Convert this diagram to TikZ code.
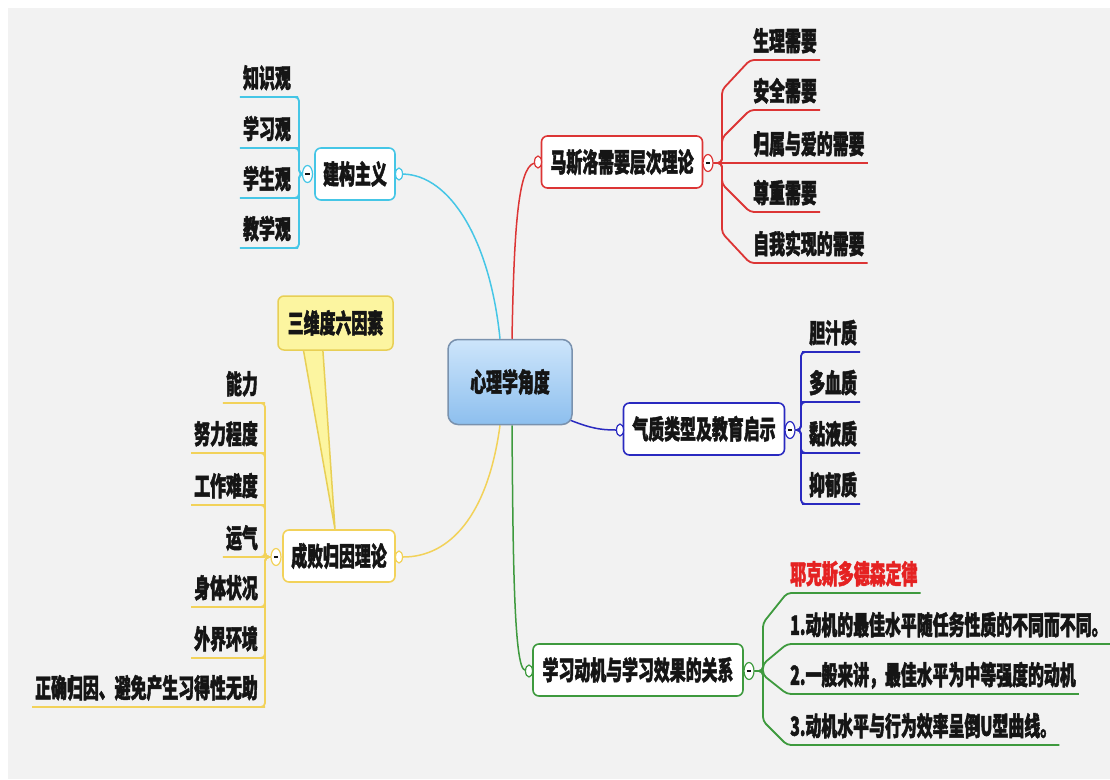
\documentclass[tikz,border=0pt]{standalone}
\usepackage{fontspec}
\setmainfont{Noto Sans CJK SC}[FakeStretch=0.6, BoldFeatures={FakeBold=1.6}]
\usetikzlibrary{shapes.geometric,backgrounds}
\definecolor{bgc}{HTML}{F2F2F2}
\definecolor{cy}{HTML}{45C6E6}
\definecolor{rd}{HTML}{DC3535}
\definecolor{bl}{HTML}{2A2AC0}
\definecolor{ye}{HTML}{F2D25A}
\definecolor{gr}{HTML}{3E9A3E}
\definecolor{txt}{HTML}{151515}
\definecolor{ctop}{HTML}{CDE5FB}
\definecolor{cbot}{HTML}{8DBFEE}
\definecolor{cbord}{HTML}{7A92AE}
\definecolor{callf}{HTML}{FCF5A0}
\definecolor{calld}{HTML}{E8CF55}
\definecolor{jred}{HTML}{E52222}
\newcommand{\colminus}{\rule{4.5pt}{2pt}}
\begin{document}
\begin{tikzpicture}[x=1pt,y=-1pt,
  every node/.style={font=\fontsize{26.5}{30}\selectfont\bfseries, text=txt},
  topic/.style={draw=#1, line width=1.6pt, fill=white, rounded corners=6pt,
    minimum height=52pt, inner xsep=8pt, text height=22pt, text depth=2pt},
  central/.style={draw=cbord, line width=1.5pt, rounded corners=10pt,
    top color=ctop, bottom color=cbot, minimum width=124pt, minimum height=85pt,
    text height=22pt, text depth=2pt},
  callbox/.style={draw=calld, line width=1.5pt, fill=callf, rounded corners=6pt,
    minimum width=115pt, minimum height=54pt, text height=22pt, text depth=2pt},
  leaf/.style={inner xsep=3pt, inner ysep=6pt, text height=22pt, text depth=3pt},
  ent/.style={ellipse, draw=#1, line width=1.2pt, fill=white, minimum width=7pt,
    minimum height=12pt, inner sep=0pt},
  col/.style={ellipse, draw=#1, line width=1.2pt, fill=white, minimum width=10pt,
    minimum height=17pt, inner sep=0pt, text height=2pt, text depth=0pt},
  con/.style={draw=#1, line width=1.5pt},
  br/.style={draw=#1, line width=1.8pt, rounded corners=4pt},
]
\path[use as bounding box] (0,0) rectangle (1110,779);

% central
\node[central] (c) at (510,382) {心理学角度};

% topics
\node[topic=cy, minimum width=80pt] (jz) at (355,174) {建构主义};
\node[ent=cy] (jze) at (399,174) {};
\node[col=cy] (jzc) at (307.5,174) {\colminus};

\node[topic=rd, minimum width=161pt] (mas) at (622,162) {马斯洛需要层次理论};
\node[ent=rd] (mase) at (538,162) {};
\node[col=rd] (masc) at (708,163) {\colminus};

\node[topic=bl, minimum width=161pt] (qz) at (704,429) {气质类型及教育启示};
\node[ent=bl] (qze) at (620,430) {};
\node[col=bl] (qzc) at (790,430) {\colminus};

\node[topic=ye, minimum width=112pt] (cb) at (339,556) {成败归因理论};
\node[ent=ye] (cbe) at (399,557) {};
\node[col=ye] (cbc) at (276,557) {\colminus};

\node[topic=gr, minimum width=210pt] (xx) at (638,670) {学习动机与学习效果的关系};
\node[ent=gr] (xxe) at (529,671) {};
\node[col=gr] (xxc) at (749,671) {\colminus};

% callout
\node[callbox] (sw) at (335.5,323) {三维度六因素};

% leaves: constructivism
\node[leaf, anchor=south east] (k1) at (294,97) {知识观};
\node[leaf, anchor=south east] (k2) at (294,148) {学习观};
\node[leaf, anchor=south east] (k3) at (294,198) {学生观};
\node[leaf, anchor=south east] (k4) at (294,248) {教学观};

% leaves: Maslow
\node[leaf, anchor=south west] (m1) at (750,60) {生理需要};
\node[leaf, anchor=south west] (m2) at (750,110) {安全需要};
\node[leaf, anchor=south west] (m3) at (750,163) {归属与爱的需要};
\node[leaf, anchor=south west] (m4) at (750,212) {尊重需要};
\node[leaf, anchor=south west] (m5) at (750,263) {自我实现的需要};

% leaves: temperament
\node[leaf, anchor=south west] (q1) at (806,352) {胆汁质};
\node[leaf, anchor=south west] (q2) at (806,402) {多血质};
\node[leaf, anchor=south west] (q3) at (806,453) {黏液质};
\node[leaf, anchor=south west] (q4) at (806,504) {抑郁质};

% leaves: attribution
\node[leaf, anchor=south east] (a1) at (261,403) {能力};
\node[leaf, anchor=south east] (a2) at (261,453) {努力程度};
\node[leaf, anchor=south east] (a3) at (261,505) {工作难度};
\node[leaf, anchor=south east] (a4) at (261,557) {运气};
\node[leaf, anchor=south east] (a5) at (261,607) {身体状况};
\node[leaf, anchor=south east] (a6) at (261,658) {外界环境};
\node[leaf, anchor=south east] (a7) at (261,707) {正确归因、避免产生习得性无助};

% leaves: motivation
\node[leaf, anchor=south west, text=jred] (g0) at (787,593) {耶克斯多德森定律};
\node[leaf, anchor=south west] (g1) at (787,644) {1.动机的最佳水平随任务性质的不同而不同。};
\node[leaf, anchor=south west] (g2) at (787,694) {2.一般来讲，最佳水平为中等强度的动机};
\node[leaf, anchor=south west] (g3) at (787,745) {3.动机水平与行为效率呈倒U型曲线。};

\begin{pgfonlayer}{background}
\fill[white] (0,0) rectangle (1110,779);
\fill[bgc] (8,8) rectangle (1110,779);
% callout pointer
\filldraw[fill=callf, draw=calld, line width=1.5pt, line join=round]
  ([shift={(-33pt,6pt)}]sw.south) -- ([xshift=-4pt]cb.north) -- ([shift={(-13pt,6pt)}]sw.south);
% main connectors
\draw[con=cy] ([xshift=-10pt]c.north) .. controls (490,240) and (450,175) .. (jze);
\draw[con=rd] ([xshift=2pt]c.north) .. controls (514,230) and (518,168) .. (mase);
\draw[con=bl] ([shift={(-3pt,-38pt)}]c.east) .. controls (590,428) and (600,430) .. (qze);
\draw[con=ye] ([xshift=-10pt]c.south) .. controls (488,515) and (450,557) .. (cbe);
\draw[con=gr] ([xshift=2pt]c.south) .. controls (513,560) and (514,668) .. (xxe);
% constructivism branches
\foreach \k in {k1,k2,k3,k4}
  \draw[br=cy] (jzc.west) -- (299,174) |- (\k.south east) -- (\k.south west);
% Maslow branches
\draw[br=rd] (masc.east) -- (722,163) -- (722,90) -- (m1.south west) -- (m1.south east);
\draw[br=rd] (masc.east) -- (722,163) -- (722,138) -- (m2.south west) -- (m2.south east);
\draw[br=rd] (masc.east) -- (m3.south west) -- (m3.south east);
\draw[br=rd] (masc.east) -- (722,163) -- (722,184) -- (m4.south west) -- (m4.south east);
\draw[br=rd] (masc.east) -- (722,163) -- (722,233) -- (m5.south west) -- (m5.south east);
% temperament branches
\foreach \k in {q1,q2,q3,q4}
  \draw[br=bl] (qzc.east) -- (801,430) |- (\k.south west) -- (\k.south east);
% attribution branches
\foreach \k in {a1,a2,a3,a4,a5,a6,a7}
  \draw[br=ye] (cbc.west) -- (265,557) |- (\k.south east) -- (\k.south west);
% motivation branches
\draw[br=gr] (xxc.east) -- (763,671) -- (763,623) -- (g0.south west) -- (g0.south east);
\draw[br=gr] (xxc.east) -- (763,671) -- (763,664) -- (g1.south west) -- (g1.south east);
\draw[br=gr] (xxc.east) -- (763,671) -- (763,675) -- (g2.south west) -- (g2.south east);
\draw[br=gr] (xxc.east) -- (763,671) -- (763,721) -- (g3.south west) -- (g3.south east);
\end{pgfonlayer}
\end{tikzpicture}
\end{document}
